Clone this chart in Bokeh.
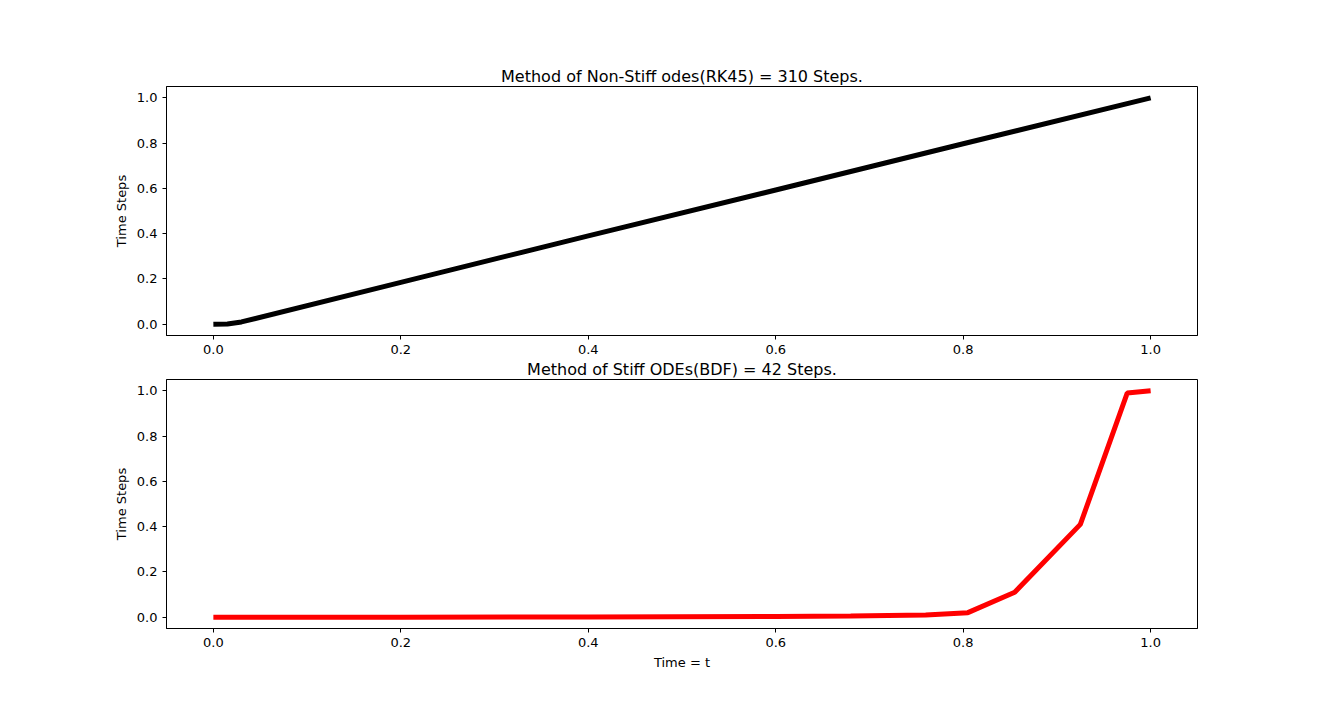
from bokeh.plotting import figure
from bokeh.layouts import column
from bokeh.models import Range1d, NumeralTickFormatter, FixedTicker
from bokeh.embed import file_html
from bokeh.resources import INLINE

# non-stiff solver (RK45) trajectory
rk_t = [0.0, 0.015, 0.03, 0.2, 0.4, 0.6, 0.8, 1.0]
rk_y = [0.0, 0.001, 0.01, 0.185, 0.39, 0.593, 0.797, 1.0]

# stiff solver (BDF) trajectory
bdf_t = [0.0, 0.2, 0.4, 0.6, 0.68, 0.76, 0.805, 0.855, 0.925, 0.975, 1.0]
bdf_y = [0.0, 0.0, 0.001, 0.003, 0.005, 0.01, 0.02, 0.11, 0.41, 0.99, 1.0]

ticks = [0.0, 0.2, 0.4, 0.6, 0.8, 1.0]


def make_panel(title, t, y, color, top, bottom, xlabel=None):
    p = figure(frame_width=1031, frame_height=249, output_backend="svg",
               toolbar_location=None, tools="",
               x_range=Range1d(-0.05, 1.05), y_range=Range1d(-0.05, 1.05),
               min_border_left=166, min_border_right=125,
               min_border_top=top, min_border_bottom=bottom)
    p.title.text = title
    p.title.align = "center"
    p.title.text_font = "DejaVu Sans"
    p.title.text_font_style = "normal"
    p.title.text_font_size = "16px"
    p.title.text_color = "black"
    p.title.standoff = 2
    p.line(t, y, line_color=color, line_width=5)
    p.xgrid.visible = False
    p.ygrid.visible = False
    p.outline_line_color = "black"
    for ax in (p.xaxis, p.yaxis):
        ax.ticker = FixedTicker(ticks=ticks)
        ax.formatter = NumeralTickFormatter(format="0.0")
        ax.minor_tick_line_color = None
        ax.major_label_text_font = "DejaVu Sans"
        ax.major_label_text_font_size = "13px"
        ax.major_label_text_color = "black"
        ax.axis_label_text_font = "DejaVu Sans"
        ax.axis_label_text_font_size = "13px"
        ax.axis_label_text_font_style = "normal"
        ax.axis_label_text_color = "black"
        ax.major_tick_out = 4
        ax.major_tick_in = 0
    p.yaxis.axis_label = "Time Steps"
    if xlabel:
        p.xaxis.axis_label = xlabel
    return p


p1 = make_panel("Method of Non-Stiff odes(RK45) = 310 Steps.", rk_t, rk_y,
                "black", 86, 0)
p2 = make_panel("Method of Stiff ODEs(BDF) = 42 Steps.", bdf_t, bdf_y,
                "red", 0, 70, xlabel="Time = t")

p = column(p1, p2, spacing=0)
open("out.html", "w").write(file_html(p, INLINE))
